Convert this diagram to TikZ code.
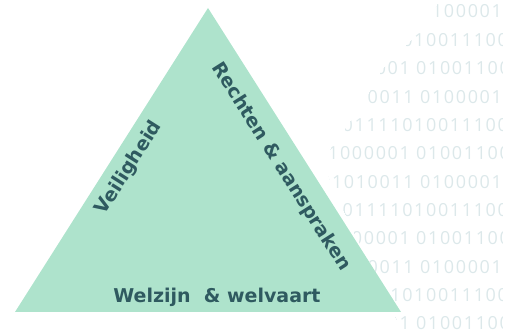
\documentclass[tikz,border=0pt]{standalone}
\usepackage{fontspec}
\usepackage{tikz}
\usetikzlibrary{positioning}
\setmainfont{DejaVu Sans}
\newfontfamily\binfont[LetterSpace=9]{Open Sans}
\definecolor{mint}{HTML}{AEE3CC}
\definecolor{slate}{HTML}{2F5A60}
\definecolor{bitgray}{HTML}{DCE8EA}
\tikzstyle{sidetext} = [font=\bfseries\fontsize{19}{23}\selectfont, text=slate, inner sep=0pt]
\tikzstyle{bits} = [font=\binfont\fontsize{18}{21}\selectfont, text=bitgray, inner sep=0pt, anchor=base east]

\begin{document}
\begin{tikzpicture}[x=1pt, y=-1pt]
	\useasboundingbox (0,0) rectangle (514,336);

	% binary background, cut off on the left
	\begin{scope}
		\clip (440,0) -- (432,12) -- (410,41) -- (381,70) -- (366,98) -- (346,127) -- (327,153)
			-- (326,170) -- (333,190) -- (343,210) -- (357,239) -- (372,267) -- (387,297)
			-- (398,324) -- (404,336) -- (502,336) -- (502,0) -- cycle;
		\foreach \n/\bitstr/\xend in {1/{01001110 01010011 0100001}/502,
				2/{01000001 1101111010011100}/508,
				3/{01010011 01000001 01001100}/510,
				4/{01001110 01010011 0100001}/502,
				5/{01000001 1101111010011100}/508,
				6/{01010011 01000001 01001100}/510,
				7/{01001110 01010011 0100001}/502,
				8/{01000001 1101111010011100}/508,
				9/{01010011 01000001 01001100}/510,
				10/{01001110 01010011 0100001}/502,
				11/{01000001 1101111010011100}/508,
				12/{01010011 01000001 01001100}/510}
			\node [bits] (row\n) at (\xend, {18+28.36*(\n-1)}) {\bitstr};
	\end{scope}

	% triangle
	\coordinate (apex) at (208,8);
	\coordinate (lefttip) at (15,312);
	\coordinate (righttip) at (401,312);
	\fill [mint] (apex) -- (lefttip) -- (righttip) -- cycle;

	\node [sidetext, rotate=57.6] (veiligheid) at (129,168) {Veiligheid};
	\node [sidetext, rotate=-57.6] (rechten) at (281,167) {Rechten \& aanspraken};
	\node [sidetext, anchor=base] (welzijn) at (217,303) {Welzijn\ \ \& welvaart};
\end{tikzpicture}
\end{document}
